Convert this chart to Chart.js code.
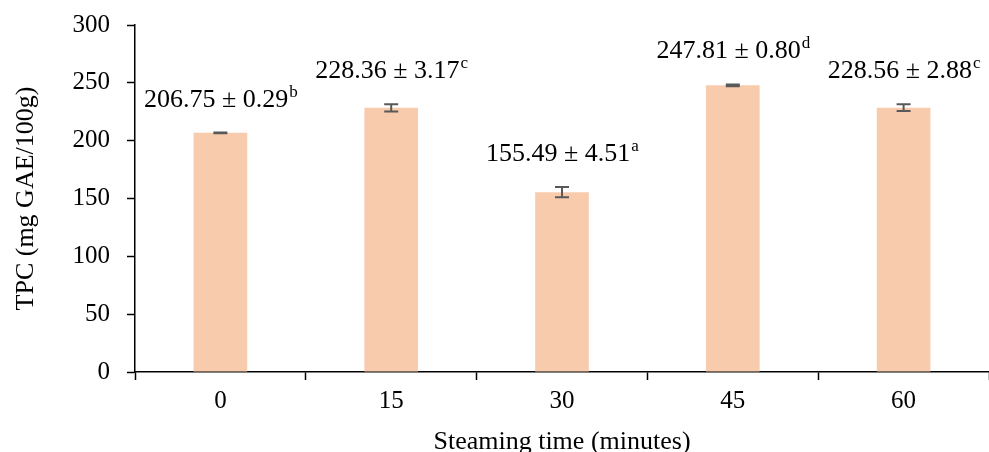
<!DOCTYPE html>
<html>
<head>
<meta charset="utf-8">
<script src="https://cdn.jsdelivr.net/npm/chart.js@4/dist/chart.umd.min.js"></script>
<style>
  html, body { margin: 0; padding: 0; background: #fff; overflow: hidden; }
  #wrap { width: 989px; height: 462px; }
</style>
</head>
<body>
<div id="wrap"><canvas id="myChart" width="989" height="462"></canvas></div>
<script>
const steamingTimes = ['0', '15', '30', '45', '60'];
const tpcMeans = [206.75, 228.36, 155.49, 247.81, 228.56];
const tpcSd = [0.29, 3.17, 4.51, 0.80, 2.88];
const groupLetters = ['b', 'c', 'a', 'd', 'c'];
const yMin = 0, yMax = 300, yStep = 50;

const serif = "'Times New Roman', 'Liberation Serif', serif";

// error bars drawn from the y scale
const errorBars = {
    id: 'errorBars',
    afterDatasetsDraw(chart){
        const ctx = chart.ctx;
        const y = chart.scales.y;
        const meta = chart.getDatasetMeta(0);
        ctx.save();
        ctx.strokeStyle = '#595959';
        ctx.lineWidth = 2;
        meta.data.forEach(function(bar, i){
            const top = y.getPixelForValue(tpcMeans[i] + tpcSd[i]);
            const bot = y.getPixelForValue(tpcMeans[i] - tpcSd[i]);
            const x = bar.x;
            ctx.beginPath();
            ctx.moveTo(x, top); ctx.lineTo(x, bot);
            ctx.moveTo(x - 7, top); ctx.lineTo(x + 7, top);
            ctx.moveTo(x - 7, bot); ctx.lineTo(x + 7, bot);
            ctx.stroke();
        });
        ctx.restore();
    }
};

// "mean ± sd" with a superscript letter above each bar
const valueLabels = {
    id: 'valueLabels',
    afterDatasetsDraw(chart){
        const ctx = chart.ctx;
        const y = chart.scales.y;
        const meta = chart.getDatasetMeta(0);
        ctx.save();
        ctx.fillStyle = '#000';
        ctx.textBaseline = 'alphabetic';
        ctx.textAlign = 'left';
        meta.data.forEach(function(bar, i){
            const main = tpcMeans[i].toFixed(2) + ' \u00B1 ' + tpcSd[i].toFixed(2);
            ctx.font = '26px ' + serif;
            const w1 = ctx.measureText(main).width;
            ctx.font = '17px ' + serif;
            const w2 = ctx.measureText(groupLetters[i]).width;
            const x0 = bar.x - (w1 + w2) / 2;
            const base = y.getPixelForValue(tpcMeans[i] + tpcSd[i]) - 26;
            ctx.font = '26px ' + serif;
            ctx.fillText(main, x0, base);
            ctx.font = '17px ' + serif;
            ctx.fillText(groupLetters[i], x0 + w1 + 1, base - 10);
        });
        ctx.restore();
    }
};

new Chart(document.getElementById('myChart'), {
    type: 'bar',
    data: {
        labels: steamingTimes,
        datasets: [{
            data: tpcMeans,
            backgroundColor: '#F8CBAD',
            borderWidth: 0,
            barPercentage: 0.314,
            categoryPercentage: 1
        }]
    },
    options: {
        responsive: false,
        animation: false,
        devicePixelRatio: 1,
        layout: { padding: { top: 25, right: 0, left: 0, bottom: 0 } },
        plugins: {
            legend: { display: false },
            tooltip: { enabled: false }
        },
        scales: {
            x: {
                offset: true,
                grid: {
                    offset: true,
                    drawOnChartArea: false,
                    drawTicks: true,
                    tickLength: 8,
                    tickWidth: 1.5,
                    tickColor: '#000'
                },
                border: { color: '#000', width: 1.5 },
                ticks: {
                    color: '#000',
                    padding: 6,
                    font: { family: serif, size: 25 }
                },
                title: {
                    display: true,
                    text: 'Steaming time (minutes)',
                    color: '#000',
                    padding: { top: 4, bottom: 4 },
                    font: { family: serif, size: 26 }
                },
                afterFit(scale){ scale.height = 90; }
            },
            y: {
                min: yMin,
                max: yMax,
                grid: {
                    drawOnChartArea: false,
                    drawTicks: true,
                    tickLength: 8,
                    tickWidth: 1.5,
                    tickColor: '#000'
                },
                border: { color: '#000', width: 1.5 },
                ticks: {
                    stepSize: yStep,
                    color: '#000',
                    padding: 17,
                    font: { family: serif, size: 25 }
                },
                title: {
                    display: true,
                    text: 'TPC (mg GAE/100g)',
                    color: '#000',
                    padding: { top: 11, bottom: 4 },
                    font: { family: serif, size: 26 }
                },
                afterFit(scale){
                    scale.width = 135;
                    scale.paddingTop = 0;
                    scale.paddingBottom = 0;
                }
            }
        }
    },
    plugins: [errorBars, valueLabels]
});
</script>
</body>
</html>
